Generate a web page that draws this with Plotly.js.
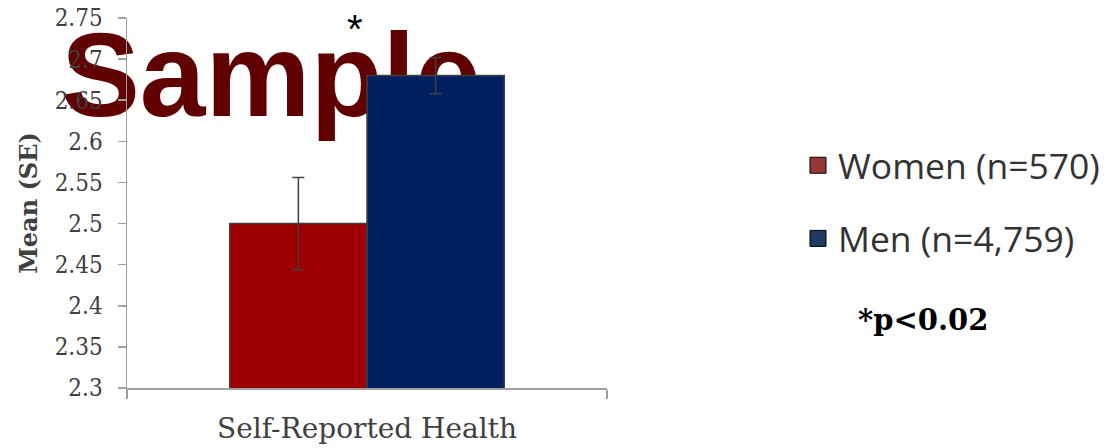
<!DOCTYPE html>
<html>
<head>
<meta charset="utf-8">
<script src="https://cdn.plot.ly/plotly-3.0.1.min.js"></script>
<style>
  html, body { margin: 0; padding: 0; background: #ffffff; }
  #chart { width: 1115px; height: 448px; }
</style>
</head>
<body>
<div id="chart"></div>
<script>
// ---- data ----
const categories = ['Self-Reported Health'];
const seriesNames = ['Women (n=570)', 'Men (n=4,759)'];
const womenMean = [2.5];
const womenSE = [0.056];
const menMean = [2.68];
const menSE = [0.022];
const yTickVals = [2.3, 2.35, 2.4, 2.45, 2.5, 2.55, 2.6, 2.65, 2.7, 2.75];
const yTickText = ['2.3', '2.35', '2.4', '2.45', '2.5', '2.55', '2.6', '2.65', '2.7', '2.75'];
const yRange = [2.3, 2.75];
const yTitle = 'Mean (SE)';
const sigMark = '*';
const sigNote = '*p<0.02';
const watermark = 'Sample';

// ---- styles ----
const barColors = ['#9c0000', '#00205f'];
const swatchColors = ['#963837', '#1f3a64'];
const axisGray = '#a0a0a0';
const textGray = '#404040';
const serif = 'DejaVu Serif Condensed, DejaVu Serif, serif';

const means = [womenMean, menMean];
const ses = [womenSE, menSE];

const traces = [];
seriesNames.forEach((name, i) => {
  traces.push({
    type: 'bar',
    name: name,
    x: categories,
    y: means[i],
    showlegend: false,
    marker: { color: barColors[i], line: { color: '#404040', width: 1.5 } },
    error_y: { type: 'data', array: ses[i], visible: true, color: '#404040', thickness: 1.5, width: 6 },
    hoverinfo: 'y'
  });
});
// legend-only entries (no visible points: y values are null)
seriesNames.forEach((name, i) => {
  traces.push({
    type: 'scatter',
    mode: 'markers',
    name: name,
    legendgroup: 'g' + i,
    x: categories,
    y: categories.map(() => null),
    marker: { symbol: 'square', size: 22, color: swatchColors[i], line: { color: '#000000', width: 1 } },
    hoverinfo: 'skip'
  });
});

const layout = {
  width: 1115,
  height: 448,
  margin: { l: 127, r: 507, t: 18, b: 59.5, pad: 0 },
  paper_bgcolor: '#ffffff',
  plot_bgcolor: 'rgba(0,0,0,0)',
  barmode: 'group',
  bargap: 0.428,
  bargroupgap: 0,
  showlegend: true,
  legend: {
    x: 1.395, xanchor: 'left',
    y: 0.682, yanchor: 'top',
    traceorder: 'grouped',
    tracegroupgap: 24,
    font: { family: 'Open Sans, sans-serif', size: 35.5, color: '#333333' },
    bgcolor: 'rgba(0,0,0,0)'
  },
  xaxis: {
    type: 'category',
    range: [-0.5, 0.5],
    showline: true, linecolor: axisGray, linewidth: 1.5,
    ticks: 'outside', tickson: 'boundaries', ticklen: 9, tickcolor: axisGray, tickwidth: 1.5,
    showgrid: false, zeroline: false,
    tickfont: { family: 'DejaVu Serif, serif', size: 28, color: textGray },
    ticklabelstandoff: 15
  },
  yaxis: {
    range: yRange,
    tickvals: yTickVals, ticktext: yTickText,
    showline: true, linecolor: axisGray, linewidth: 1.5,
    ticks: 'outside', ticklen: 8, tickcolor: axisGray, tickwidth: 1.5,
    showgrid: false, zeroline: false,
    tickfont: { family: serif, size: 24, color: textGray },
    ticklabelstandoff: 10,
    title: { text: yTitle, font: { family: 'DejaVu Serif, serif', size: 24, weight: 'bold', color: textGray }, standoff: 10 }
  },
  shapes: [{
    type: 'rect', xref: 'paper', yref: 'paper', layer: 'below',
    x0: -0.2, x1: 0.8, y0: 0.772, y1: 0.982,
    line: { width: 0 }, fillcolor: 'rgba(0,0,0,0)',
    label: {
      text: watermark, textposition: 'middle center',
      font: { family: 'Liberation Sans, Arial, sans-serif', size: 118, weight: 'bold', color: '#600000' }
    }
  }],
  annotations: [
    {
      xref: 'paper', yref: 'paper', x: 0.475, y: 0.97,
      text: sigMark, showarrow: false, xanchor: 'center', yanchor: 'middle',
      font: { family: 'Liberation Sans, Arial, sans-serif', size: 40, color: '#000000' }
    },
    {
      xref: 'paper', yref: 'paper', x: 1.659, y: 0.185,
      text: sigNote, showarrow: false, xanchor: 'center', yanchor: 'middle',
      font: { family: 'DejaVu Serif, serif', size: 29, weight: 'bold', color: '#000000' }
    }
  ]
};

Plotly.newPlot('chart', traces, layout, { displayModeBar: false, staticPlot: true });
</script>
</body>
</html>
